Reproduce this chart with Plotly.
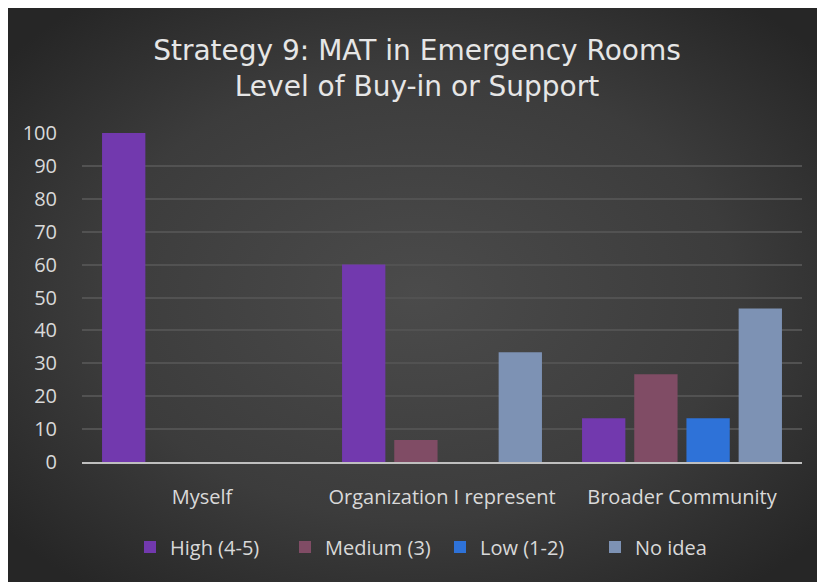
import base64
import plotly.graph_objects as go

# Survey data (percent of respondents)
categories = ["Myself", "Organization I represent", "Broader Community"]
high = [100, 60, 13.33]
medium = [0, 6.67, 26.67]
low = [0, 0, 13.33]
no_idea = [0, 33.33, 46.67]

series = [
    ("High (4-5)", high, "#7239ae"),
    ("Medium (3)", medium, "#804c65"),
    ("Low (1-2)", low, "#2e72d8"),
    ("No idea", no_idea, "#7d92b4"),
]

FONT = "Open Sans"
# the page has an 8px body margin, so the figure is a bit smaller than the window
W, H = 817, 574
L, R, T, B = 74, 23, 125, 120
PW, PH = W - L - R, H - T - B

# radial gradient background as an inline svg image
svg = (
    '<svg xmlns="http://www.w3.org/2000/svg" width="820" height="573">'
    '<defs><radialGradient id="g" cx="50%" cy="50%" r="65%">'
    '<stop offset="0%" stop-color="#4b4b4b"/>'
    '<stop offset="60%" stop-color="#3c3c3c"/>'
    '<stop offset="100%" stop-color="#262626"/>'
    '</radialGradient></defs>'
    '<rect width="820" height="573" fill="url(#g)"/></svg>'
)
bg_src = "data:image/svg+xml;base64," + base64.b64encode(svg.encode()).decode()

fig = go.Figure()
for name, vals, color in series:
    fig.add_trace(go.Bar(
        x=categories, y=vals, name=name,
        marker=dict(color=color, line=dict(width=0)),
    ))

fig.update_layout(
    width=W, height=H,
    margin=dict(l=L, r=R, t=T, b=B),
    paper_bgcolor="#2b2b2b",
    plot_bgcolor="rgba(0,0,0,0)",
    barmode="group",
    bargap=0.13,
    bargroupgap=0.17,
    font=dict(family=FONT, color="#d9d9d9", size=20),
    title=dict(
        text="Strategy 9: MAT in Emergency Rooms<br>Level of Buy-in or Support",
        x=409 / W, xanchor="center", xref="container",
        y=1 - 52 / H, yanchor="top", yref="container",
        font=dict(family="DejaVu Sans", size=28, color="#e6e6e6"),
    ),
    legend=dict(
        orientation="h",
        x=(122 - L) / PW, xanchor="left",
        y=(H - B - 539) / PH, yanchor="middle",
        font=dict(family=FONT, size=20, color="#d9d9d9"),
        bgcolor="rgba(0,0,0,0)",
        itemwidth=30,
        entrywidth=110,
    ),
    images=[dict(
        source=bg_src, xref="paper", yref="paper",
        x=-L / PW, y=(H - B) / PH,
        sizex=W / PW, sizey=H / PH,
        xanchor="left", yanchor="top",
        sizing="stretch", layer="below",
    )],
    showlegend=True,
)

fig.update_yaxes(
    range=[0, 100], dtick=10,
    showgrid=True, gridcolor="#525252", gridwidth=2,
    zeroline=False, showline=False,
    ticks="", ticklabelstandoff=24,
    tickfont=dict(family=FONT, size=20, color="#d9d9d9"),
)
fig.update_xaxes(
    showgrid=False, showline=True, linecolor="#bfbfbf", linewidth=2,
    ticks="", ticklabelstandoff=16,
    tickfont=dict(family=FONT, size=20, color="#d9d9d9"),
)

fig.write_html("out.html")
